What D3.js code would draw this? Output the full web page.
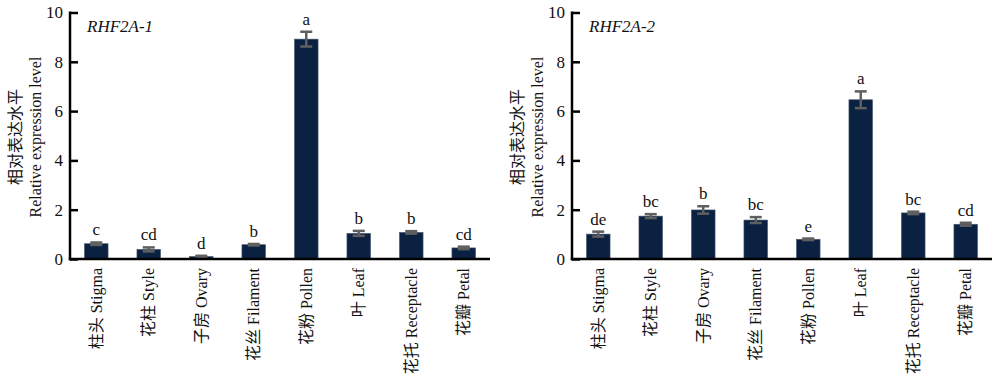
<!DOCTYPE html>
<html><head><meta charset="utf-8">
<script src="https://cdn.jsdelivr.net/npm/d3@7"></script>
<style>
body{margin:0;background:#fff;}
svg{display:block;}
svg text{font-family:'Liberation Serif','Tinos','Times New Roman','DejaVu Serif',serif !important;fill:#111;}
svg text.cn{font-family:'Liberation Serif','Noto Sans CJK SC',serif !important;}
</style></head>
<body>
<svg id="c" width="1000" height="383"></svg>
<script>
const categories = ["柱头 Stigma","花柱 Style","子房 Ovary","花丝 Filament","花粉 Pollen","叶 Leaf","花托 Receptacle","花瓣 Petal"];
const yTicks = [0,2,4,6,8,10];
const title1 = "RHF2A-1";
const values1 = [0.62,0.39,0.10,0.58,8.92,1.04,1.08,0.45];
const errors1 = [0.05,0.08,0.03,0.03,0.30,0.10,0.05,0.05];
const letters1 = ["c","cd","d","b","a","b","b","cd"];
const title2 = "RHF2A-2";
const values2 = [1.01,1.74,1.99,1.58,0.80,6.46,1.87,1.41];
const errors2 = [0.10,0.08,0.15,0.12,0.03,0.34,0.05,0.06];
const letters2 = ["de","bc","b","bc","e","a","bc","cd"];
const yLabelCN = "相对表达水平";
const yLabelEN = "Relative expression level";

const svg = d3.select("#c");

function panel(x0, x1, title, values, errors, letters){
  const yTop = 12.5, yBot = 259;
  const x = d3.scaleBand().domain(categories).range([x0, x1]).paddingInner(0.55).paddingOuter(0.275);
  const y = d3.scaleLinear().domain([0,10]).range([yBot, yTop]);
  const g = svg.append("g");
  const data = categories.map((c,i)=>({c, v:values[i], e:errors[i], l:letters[i]}));

  g.selectAll("rect.bar").data(data).join("rect")
    .attr("x", d=>x(d.c)).attr("width", x.bandwidth())
    .attr("y", d=>y(d.v)).attr("height", d=>y(0)-y(d.v))
    .attr("fill", "#0b2142").attr("stroke","#4a5a72").attr("stroke-width",0.6);

  const eb = g.selectAll("g.eb").data(data).join("g")
    .attr("stroke","#5f5f5f").attr("stroke-width",2.5);
  eb.append("line").attr("x1", d=>x(d.c)+x.bandwidth()/2).attr("x2", d=>x(d.c)+x.bandwidth()/2)
    .attr("y1", d=>y(d.v+d.e)).attr("y2", d=>y(d.v-d.e));
  eb.append("line").attr("x1", d=>x(d.c)+x.bandwidth()/2-6).attr("x2", d=>x(d.c)+x.bandwidth()/2+6)
    .attr("y1", d=>y(d.v+d.e)).attr("y2", d=>y(d.v+d.e));
  eb.append("line").attr("x1", d=>x(d.c)+x.bandwidth()/2-6).attr("x2", d=>x(d.c)+x.bandwidth()/2+6)
    .attr("y1", d=>y(d.v-d.e)).attr("y2", d=>y(d.v-d.e));

  g.selectAll("text.let").data(data).join("text")
    .attr("x", d=>x(d.c)+x.bandwidth()/2).attr("y", d=>y(d.v+d.e)-7)
    .attr("text-anchor","middle").attr("font-size",17).text(d=>d.l);

  // axes
  const ya = d3.axisLeft(y).tickValues(yTicks).tickSize(-8).tickPadding(7).tickFormat(d3.format("d"));
  const yg = g.append("g").attr("transform",`translate(${x0},0)`).call(ya);
  yg.attr("font-family",null);
  yg.select(".domain").remove();
  yg.selectAll(".tick line").attr("stroke","#000").attr("stroke-width",2.5);
  yg.selectAll(".tick text").attr("font-size",17).attr("fill","#111");
  g.append("line").attr("x1",x0).attr("x2",x0).attr("y1",yTop-1).attr("y2",yBot+1.2)
    .attr("stroke","#000").attr("stroke-width",2.5);
  g.append("line").attr("x1",x0-1.2).attr("x2",x1).attr("y1",yBot).attr("y2",yBot)
    .attr("stroke","#000").attr("stroke-width",2.5);

  const xa = d3.axisBottom(x).tickSize(0).tickPadding(0);
  const xg = g.append("g").attr("transform",`translate(0,${yBot})`).call(xa);
  xg.attr("font-family",null);
  xg.select(".domain").remove();
  xg.selectAll(".tick text").attr("class","cn").attr("font-size",16)
    .attr("text-anchor","end").attr("dy","0.35em")
    .attr("transform","translate(0,9) rotate(-90)").attr("x",0).attr("y",0).attr("fill","#111");

  g.append("text").attr("x", x0+17).attr("y", 32).attr("font-style","italic").attr("font-size",17).text(title);

  const cy = 137;
  g.append("text").attr("class","cn").attr("transform",`translate(${x0-55},${cy}) rotate(-90)`).attr("text-anchor","middle")
    .attr("dy","0.35em").attr("font-size",16).attr("fill","#3b3f4a").text(yLabelCN);
  g.append("text").attr("transform",`translate(${x0-35},${cy}) rotate(-90)`).attr("text-anchor","middle")
    .attr("dy","0.35em").attr("font-size",16).text(yLabelEN);
}
panel(70, 490, title1, values1, errors1, letters1);
panel(572, 992, title2, values2, errors2, letters2);
</script>
</body></html>
